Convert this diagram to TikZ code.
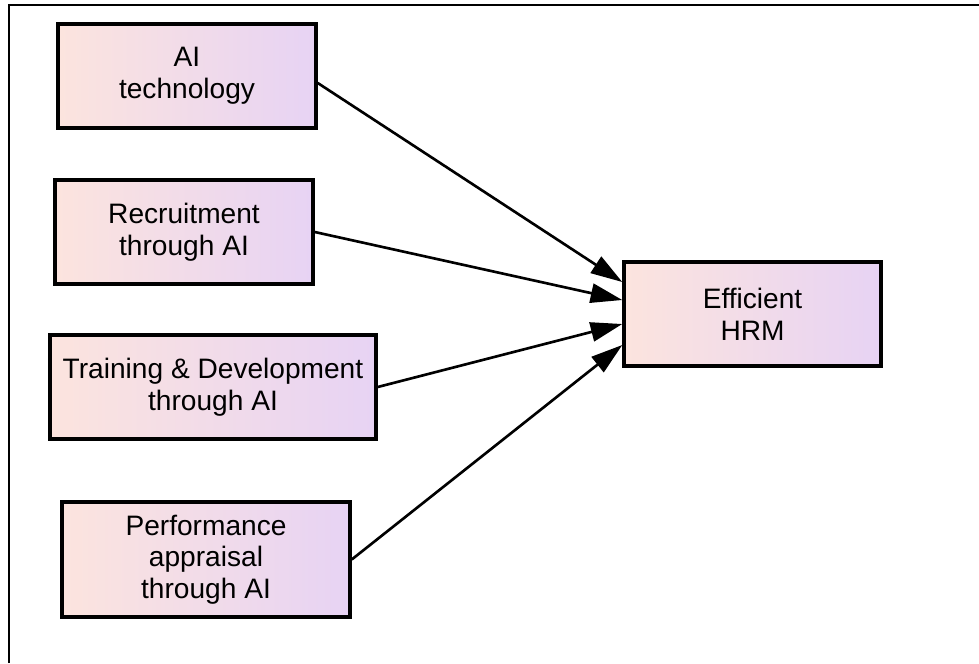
\documentclass[tikz,border=0pt]{standalone}
\usepackage{fontspec}
\setmainfont{Liberation Sans}
\usetikzlibrary{arrows.meta}
\definecolor{peach}{RGB}{252,228,222}
\definecolor{lavender}{RGB}{231,211,244}

\begin{document}
\begin{tikzpicture}[x=0.02cm, y=-0.02cm]
    \tikzstyle{block} = [rectangle, draw, line width=2pt, left color=peach,
        right color=lavender, align=center, minimum height=2.08cm,
        font=\fontsize{16}{18}\selectfont]
    \tikzstyle{line} = [draw, line width=1.5pt,
        -{Triangle[length=18pt, width=11pt]}]
    \useasboundingbox (0,0) rectangle (979,663);

    % frame
    \draw[line width=1.6pt] (9,663) -- (9,5) -- (979,5);

    % factors
    \node[block, minimum width=5.16cm] (aitech) at (187,76) {AI\\technology};
    \node[block, minimum width=5.16cm] (recruit) at (184,232) {Recruitment\\through AI};
    \node[block, minimum width=6.52cm] (training) at (213,387) {Training \& Development\\through AI};
    \node[block, minimum width=5.76cm, minimum height=2.3cm] (appraisal) at (206,559.5)
        {Performance\\appraisal\\through AI};
    % outcome
    \node[block, minimum width=5.14cm] (hrm) at (752.5,314) {Efficient\\HRM};

    \draw[line] ([yshift=-0.14cm]aitech.east) -- ([yshift=0.64cm]hrm.west);
    \draw[line] (recruit.east) -- ([yshift=0.28cm]hrm.west);
    \draw[line] (training.east) -- ([yshift=-0.2cm]hrm.west);
    \draw[line] (appraisal.east) -- ([yshift=-0.62cm]hrm.west);
\end{tikzpicture}
\end{document}
